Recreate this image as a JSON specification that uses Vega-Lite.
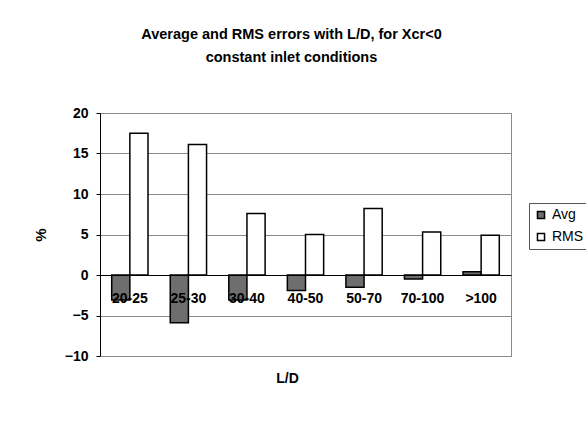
{
  "$schema": "https://vega.github.io/schema/vega-lite/v6.json",
  "autosize": "none",
  "width": 411,
  "height": 243,
  "padding": {"left": 100, "top": 113, "right": 75, "bottom": 66},
  "background": "white",
  "title": {
    "text": ["Average and RMS errors with L/D, for Xcr<0", "constant inlet conditions"],
    "font": "Liberation Sans",
    "fontSize": 14.5,
    "fontWeight": "bold",
    "color": "black",
    "lineHeight": 23,
    "anchor": "middle",
    "dx": -14,
    "offset": 41
  },
  "data": {
    "values": [
      {"ld": "20-25", "series": "Avg", "value": -3.1},
      {"ld": "20-25", "series": "RMS", "value": 17.5},
      {"ld": "25-30", "series": "Avg", "value": -5.9},
      {"ld": "25-30", "series": "RMS", "value": 16.1},
      {"ld": "30-40", "series": "Avg", "value": -3.1},
      {"ld": "30-40", "series": "RMS", "value": 7.6},
      {"ld": "40-50", "series": "Avg", "value": -1.9},
      {"ld": "40-50", "series": "RMS", "value": 5.0},
      {"ld": "50-70", "series": "Avg", "value": -1.5},
      {"ld": "50-70", "series": "RMS", "value": 8.2},
      {"ld": "70-100", "series": "Avg", "value": -0.5},
      {"ld": "70-100", "series": "RMS", "value": 5.3},
      {"ld": ">100", "series": "Avg", "value": 0.4},
      {"ld": ">100", "series": "RMS", "value": 4.9}
    ]
  },
  "mark": {"type": "bar", "stroke": "black", "strokeWidth": 1.5},
  "encoding": {
    "x": {
      "field": "ld",
      "type": "nominal",
      "sort": null,
      "scale": {"paddingInner": 0.38, "paddingOuter": 0.2},
      "axis": {
        "title": "L/D",
        "titleFont": "Liberation Sans",
        "titleFontSize": 14,
        "titleFontWeight": "bold",
        "titleColor": "black",
        "titleX": 187,
        "titleY": 103,
        "titleBaseline": "middle",
        "offset": -81,
        "labelAngle": 0,
        "labelFont": "Liberation Sans",
        "labelFontSize": 14,
        "labelFontWeight": "bold",
        "labelColor": "black",
        "labelPadding": 16,
        "ticks": false,
        "domainColor": "black",
        "domainWidth": 1,
        "zindex": 1
      }
    },
    "xOffset": {"field": "series", "type": "nominal", "scale": {"paddingInner": 0, "paddingOuter": 0}},
    "y": {
      "field": "value",
      "type": "quantitative",
      "scale": {"domain": [-10, 20], "nice": false, "zero": false},
      "axis": {
        "title": "%",
        "titleFont": "Liberation Sans",
        "titleFontSize": 15,
        "titleFontWeight": "bold",
        "titleColor": "black",
        "titlePadding": 16,
        "values": [-10, -5, 0, 5, 10, 15, 20],
        "labelFont": "Liberation Sans",
        "labelFontSize": 14,
        "labelFontWeight": "bold",
        "labelColor": "black",
        "labelPadding": 8,
        "tickColor": "black",
        "tickSize": 4,
        "domainColor": "black",
        "grid": true,
        "gridColor": "#8a8a8a",
        "gridWidth": 1
      }
    },
    "fill": {
      "field": "series",
      "type": "nominal",
      "scale": {"domain": ["Avg", "RMS"], "range": ["#6e6e6e", "#ffffff"]},
      "legend": {
        "title": null,
        "orient": "none",
        "legendX": 429,
        "legendY": 90,
        "symbolType": "square",
        "symbolSize": 50,
        "symbolStrokeColor": "black",
        "symbolStrokeWidth": 1.5,
        "labelFont": "Liberation Sans",
        "labelFontSize": 14,
        "labelColor": "black",
        "labelOffset": 4,
        "rowPadding": 8,
        "strokeColor": "#555555",
        "padding": 5,
        "fillColor": "white"
      }
    }
  },
  "config": {
    "view": {"stroke": "#8a8a8a", "strokeWidth": 1}
  }
}
